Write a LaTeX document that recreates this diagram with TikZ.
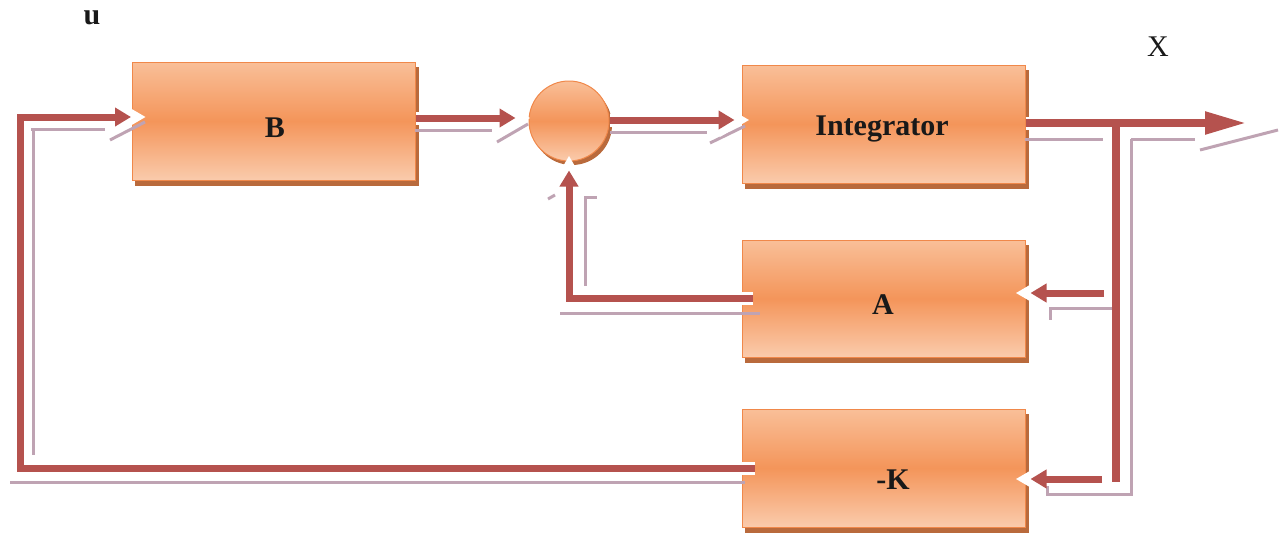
\documentclass[tikz,border=0pt]{standalone}
\usepackage{fontspec}
\setmainfont{Liberation Serif}
\usetikzlibrary{arrows.meta,backgrounds}
\definecolor{flowred}{HTML}{B5524E}
\definecolor{ghostc}{HTML}{BFA3B3}
\definecolor{boxedge}{HTML}{F0884A}
\definecolor{boxlight}{HTML}{F9BF98}
\definecolor{boxlow}{HTML}{FACBAC}
\definecolor{boxmid}{HTML}{F4955A}
\definecolor{boxshadow}{HTML}{B96A3C}
\tikzset{
  blk/.style={rectangle, minimum width=283pt, minimum height=118pt, inner sep=0pt,
    draw=boxedge, line width=1pt, top color=boxlight, bottom color=boxlow, middle color=boxmid},
  sumc/.style={circle, minimum size=80pt, inner sep=0pt,
    draw=boxedge, line width=1pt, top color=boxlight, bottom color=boxlow, middle color=boxmid},
  lbl/.style={font=\fontsize{30}{36}\selectfont\bfseries, text=black!90, inner sep=0pt},
  halo/.style={draw=white, line width=13pt, -{Triangle[length=30pt,width=32pt]}},
  halonotip/.style={draw=white, line width=13pt},
  flow/.style={draw=flowred, line width=7pt, -{Triangle[length=16pt,width=18pt]}, shorten >=15pt},
  plain/.style={draw=flowred, line width=7pt},
  ghost/.style={draw=ghostc, line width=3pt},
}
\begin{document}
\begin{tikzpicture}[x=1pt,y=-1pt]
\useasboundingbox (0,0) rectangle (1282,533);
% blocks
\node[blk] (B) at (274,121) {};
\node[sumc] (S) at (569,121) {};
\node[blk] (I) at (883.5,124) {};
\node[blk, minimum height=117pt] (A) at (883.5,298.5) {};
\node[blk] (K) at (883.5,468) {};
\begin{scope}[on background layer]
  \foreach \n in {B,I,A,K}
    \fill[boxshadow] ([shift={(3pt,-5pt)}]\n.south west) rectangle ([shift={(3pt,-5pt)}]\n.north east);
  \fill[boxshadow] ([shift={(3pt,-4pt)}]S.center) circle (40pt);
\end{scope}
% labels
\node[lbl] (Bt) at (275,128) {B};
\node[lbl] (It) at (882,129) {Integrator};
\node[lbl] (At) at (883,305) {A};
\node[lbl] (Kt) at (893,480) {-K};
\node[lbl] (u) at (92,18) {u};
\node[lbl, font=\fontsize{30}{36}\selectfont] (X) at (1158,47) {X};
% named coordinates
\coordinate (Kout) at ([xshift=13pt]K.west);
\coordinate (lft) at (20,300);
\coordinate (Bin) at ([shift={(14pt,4pt)}]B.west);
\coordinate (Bout) at ([yshift=3pt]B.east);
\coordinate (Sin) at ([shift={(2pt,3pt)}]S.west);
\coordinate (Sout) at ([yshift=1pt]S.east);
\coordinate (Iin) at ([shift={(8pt,4pt)}]I.west);
\coordinate (Iout) at ([yshift=1pt]I.east);
\coordinate (Xend) at (1247,123);
\coordinate (br1) at (1116,123);
\coordinate (br2) at (1116,482);
\coordinate (Afrom) at (1104,293);
\coordinate (Ain) at ([shift={(-10pt,5.5pt)}]A.east);
\coordinate (Kfrom) at (1102,479);
\coordinate (Kin) at ([shift={(-10pt,-11pt)}]K.east);
\coordinate (Aout) at ([xshift=11pt]A.west);
\coordinate (Sbot) at ([yshift=6pt]S.south);
% shadow lines
\draw[ghost] (10,482) -- (745,482);
\draw[ghost] (105,129) -- (31,129) -- (33,129) -- (33,455);
\draw[ghost] (110,140) -- (145,122);
\draw[ghost] (415,130) -- (492,130);
\draw[ghost] (497,142) -- (528,124);
\draw[ghost] (610,132) -- (707,132);
\draw[ghost] (710,143) -- (745,126);
\draw[ghost] (1025,139) -- (1103,139);
\draw[ghost] (1131,139) -- (1195,139);
\draw[ghost] (1200,150) -- (1278,130);
\draw[ghost] (1131,139) -- (1131,494) -- (1047,494) -- (1047,484);
\draw[ghost] (1113,308) -- (1050,308) -- (1050,320);
\draw[ghost] (560,313) -- (760,313);
\draw[ghost] (585,286) -- (585,197) -- (597,197);
\draw[ghost] (548,199) -- (555,195);
% white halos
\draw[halo] (Kout) -| (lft) |- (Bin);
\draw[halo] (Bout) -- (Sin);
\draw[halo] (Sout) -- (Iin);
\draw[halonotip] (Iout) -- ([xshift=-30pt]Xend);
\draw[halo] (Afrom) -- (Ain);
\draw[halo] (Kfrom) -- (Kin);
\draw[halo] (Aout) -| (Sbot);
% red connectors
\draw[flow] (Kout) -| (lft) |- (Bin);
\draw[flow] (Bout) -- (Sin);
\draw[flow] (Sout) -- (Iin);
\draw[plain, line width=8pt, -{Triangle[length=42pt,width=21pt]}] (Iout) -- (Xend);
\draw[plain, line width=8pt] (br1) -- (br2);
\draw[flow] (Afrom) -- (Ain);
\draw[flow] (Kfrom) -- (Kin);
\draw[flow] (Aout) -| (Sbot);
\end{tikzpicture}
\end{document}
